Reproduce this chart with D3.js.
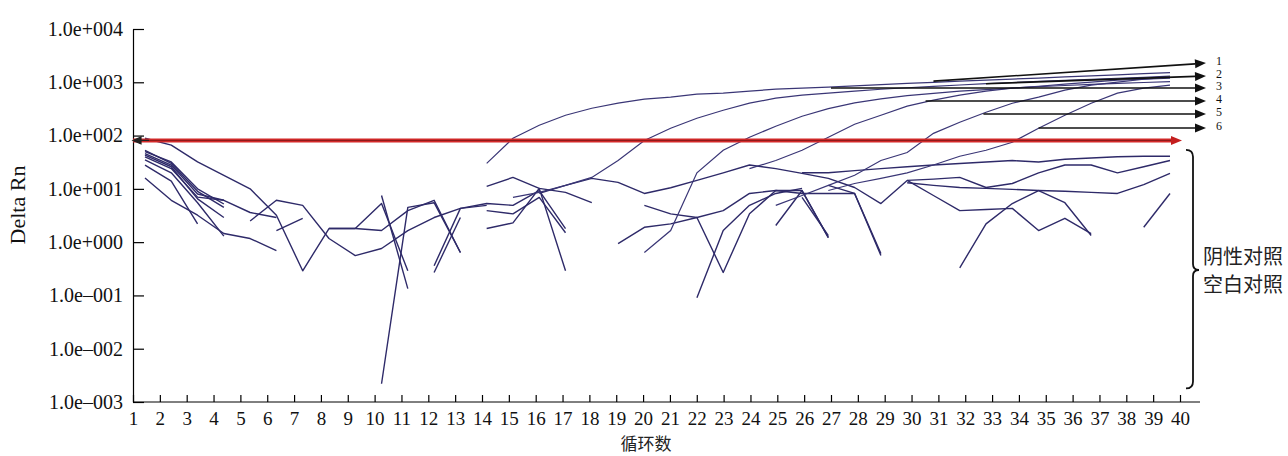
<!DOCTYPE html>
<html>
<head>
<meta charset="utf-8">
<script src="https://cdn.jsdelivr.net/npm/d3@7"></script>
<style>
  body { margin: 0; background: #fff; }
  svg text { font-family: "Liberation Serif", "Times New Roman", serif; fill: #111; }
  svg text.cn { font-family: "Noto Sans CJK SC", sans-serif; fill: #222; }
  .run { fill: none; stroke: #2e2a69; stroke-width: 1.4; stroke-linejoin: round; }
  .amp { fill: none; stroke: #3a3676; stroke-width: 1.2; }
</style>
</head>
<body>
<div id="app"></div>
<script>
const width = 1288, height = 456;

// axis values
const cycles = d3.range(1, 41);
const decades = [1e-3, 1e-2, 1e-1, 1e0, 1e1, 1e2, 1e3, 1e4];
const threshold = 81;

// amplification curves (start cycle, Delta Rn per cycle)
const amp1 = [30, 89, 156, 241, 326, 405, 482, 525, 598, 625, 681, 743, 776, 811, 860, 900, 950, 1000, 1050, 1100, 1150, 1200, 1260, 1320, 1380, 1450, 1520];
const amp2 = [6.9, 8.6, 11.6, 16.4, 34, 81, 137, 211, 299, 405, 503, 573, 625, 681, 740, 790, 840, 890, 940, 990, 1040, 1090, 1140, 1190, 1240, 1300];
const amp3 = [0.64, 1.65, 20, 53, 93, 150, 230, 320, 410, 490, 560, 620, 680, 730, 780, 830, 870, 910, 950, 990, 1030];
const amp4 = [24, 34, 53, 93, 163, 241, 356, 461, 573, 681, 776, 843, 923, 1007, 1096, 1140, 1190];
const amp5 = [4.9, 7.5, 11.6, 18, 34, 48, 110, 178, 274, 405, 525, 711, 884, 1007, 1140, 1250];
const amp6 = [9.3, 12.6, 15.7, 20, 28, 41, 53, 75, 137, 241, 405, 625, 776, 884];
const ampStarts = [14, 15, 20, 24, 25, 27];

// negative / blank control traces
const neg1 = [89, 66, 32, 18, 10, 3.2, 0.29, 1.8, 1.8];
const neg2 = [53, 30, 9, 4.5];
const neg3 = [46, 28, 8, 6.1, 3.6, 2.9];
const neg4 = [40, 24, 7, 6.1];
const neg5 = [35, 20, 5.5, 1.3];
const neg6 = [28, 14, 2.2];
const neg7 = [16, 6.1, 3.2, 1.45, 1.17, 0.69];
const neg8 = [50, 32, 10, 5.2];
const neg9 = [43, 26, 6.5, 2.9];
const neg10 = [2.5, 6.1, 4.9, 1.17, 0.56, 0.76, 1.65, 2.9, 4.3, 5.3, 4.9, 9.3, 1.8];
const neg11 = [1.65, 2.8];
const neg12 = [1.8, 1.8, 1.65, 3.9, 6.1, 0.64];
const neg13 = [0.0022, 4.5, 5.5, 0.64];
const neg14 = [7.5, 0.134];
const neg15 = [1.8, 5.3, 0.29];
const neg16 = [0.36, 4.3, 4.9];
const neg17 = [0.27, 2.9];
const neg18 = [11.1, 16.4, 10.2, 8.6, 5.5];
const neg19 = [3.9, 3.4, 6.9, 1.5];
const neg20 = [1.8, 2.3, 10.2, 0.29];
const neg21 = [8.2, 11.6, 15.7, 13.2, 8.2, 10.5, 14.4, 20, 28, 24, 19.5, 15.7, 10.6, 5.3, 14.4, 15.2, 16.4, 10.6, 12.6, 20, 28, 28, 20, 26, 34];
const neg22 = [0.94, 1.9, 2.2, 2.9, 3.9, 8.2, 9.3, 8.2, 8.2, 8.2, 0.56];
const neg23 = [4.9, 3.4, 2.9, 0.27, 3.4, 9.3, 9.3, 1.22];
const neg24 = [0.09, 1.65, 4.9, 8.2, 10.2];
const neg25 = [2.05, 9.3, 1.22];
const neg26 = [11.6, 8.2, 0.61];
const neg27 = [20, 20, 22, 24, 26, 28, 30, 32, 34, 32, 36, 38, 40, 41, 41];
const neg28 = [14.4, 7.5, 3.9, 4.1, 4.3, 1.65, 2.8, 1.45];
const neg29 = [13, 11.6, 10.6, 10.2, 9.8, 9.3, 9, 8.6, 8.2, 12, 19.5];
const neg30 = [0.33, 2.2, 5.3, 9.3, 5.5, 1.33];
const neg31 = [1.9, 8.2];
const neg32 = [6.9, 1.33];
const negStarts = [1, 1, 1, 1, 1, 1, 1, 1, 1, 5, 6, 8, 10, 10, 9, 12, 12, 14, 14, 14, 16, 19, 20, 22, 25, 27, 26, 30, 30, 32, 39, 26];

// label arrows: start cycle, start value, end value
const arrowLabels = ["1", "2", "3", "4", "5", "6"];
const arrowFrom = [31, 33, 27.1, 30.7, 32.9, 35];
const arrowFromValue = [1050, 940, 782, 446, 254, 139];
const arrowToValue = [2290, 1310, 782, 446, 254, 139];
const arrowTip = 41.37;

const svg = d3.select("#app")
.append("svg")
  .attr("width", width)
  .attr("height", height);

const x = d3.scaleLinear().domain([1, 40]).range([133, 1180]);
const xRun = d3.scaleLinear().domain([1, 40]).range([145, 1170]);
const y = d3.scaleLog().domain([1e-3, 1e4]).range([402, 29]);

const fmt = d => {
  const e = Math.round(Math.log10(d));
  return "1.0e" + (e < 0 ? "\u2013" : "+") + String(Math.abs(e)).padStart(3, "0");
};

/* y axis */
const gy = svg.append("g")
  .attr("transform", "translate(133,0)")
  .call(d3.axisLeft(y).tickValues(decades).tickFormat(fmt)
    .tickSizeInner(-11).tickSizeOuter(0).tickPadding(10));
gy.selectAll("text").style("font-size", "20px");

/* x axis */
const gx = svg.append("g")
  .attr("transform", "translate(0,402)")
  .call(d3.axisBottom(x).tickValues(cycles).tickFormat(d3.format("d"))
    .tickSizeInner(-7).tickSizeOuter(0).tickPadding(10));
gx.select(".domain").remove();
gx.selectAll("text").style("font-size", "19px");
svg.append("line")
  .attr("x1", x(1)).attr("x2", x(40) + 20)
  .attr("y1", 402).attr("y2", 402)
  .attr("stroke", "#000");
svg.selectAll(".domain, .tick line").attr("stroke", "#000").attr("stroke-width", 1.2);

svg.append("text")
  .attr("transform", "translate(25,205) rotate(-90)")
  .attr("text-anchor", "middle")
  .style("font-size", "22px")
  .text("Delta Rn");

svg.append("text")
  .attr("class", "cn")
  .attr("x", 646).attr("y", 450)
  .attr("text-anchor", "middle")
  .style("font-size", "17px")
  .text("循环数");

/* traces */
const negRuns = [neg1, neg2, neg3, neg4, neg5, neg6, neg7, neg8, neg9, neg10, neg11, neg12, neg13, neg14, neg15, neg16,
  neg17, neg18, neg19, neg20, neg21, neg22, neg23, neg24, neg25, neg26, neg27, neg28, neg29, neg30, neg31, neg32]
  .map((v, i) => ({ start: negStarts[i], values: v }));
const ampRuns = [amp1, amp2, amp3, amp4, amp5, amp6]
  .map((v, i) => ({ start: ampStarts[i], values: v }));

const lineFor = run => d3.line()
  .x((d, i) => xRun(run.start + i))
  .y(d => y(d))(run.values);

svg.selectAll(".run")
  .data(negRuns)
.enter()
.append("path")
  .attr("class", "run")
  .attr("d", lineFor);

svg.selectAll(".amp")
  .data(ampRuns)
.enter()
.append("path")
  .attr("class", "amp")
  .attr("d", lineFor);

/* threshold */
const ty = y(threshold);
svg.append("line")
  .attr("x1", x(1)).attr("x2", x(40) - 8)
  .attr("y1", ty).attr("y2", ty)
  .attr("stroke", "#d42a2a").attr("stroke-width", 4);
svg.append("line")
  .attr("x1", x(1)).attr("x2", x(40) - 8)
  .attr("y1", ty).attr("y2", ty)
  .attr("stroke", "#6a1414").attr("stroke-width", 0.7);
svg.append("path")
  .attr("d", `M${x(40) + 2},${ty} L${x(40) - 9},${ty - 4.5} L${x(40) - 9},${ty + 4.5} Z`)
  .attr("fill", "#c41e1e");
svg.append("path")
  .attr("d", `M${x(1)},${ty} L${x(1) + 8},${ty - 3.5} L${x(1) + 8},${ty + 3.5} Z M${x(1)},${ty} L${x(1) + 16},${ty}`)
  .attr("fill", "#222").attr("stroke", "#222").attr("stroke-width", 1.2);

/* numbered arrows */
const arrows = svg.append("g");
arrowLabels.forEach((lab, i) => {
  const x0 = xRun(arrowFrom[i]), y0 = y(arrowFromValue[i]);
  const x1 = xRun(arrowTip), y1 = y(arrowToValue[i]);
  const a = Math.atan2(y1 - y0, x1 - x0);
  const L = 11, hw = 4.5;
  const bx = x1 - L * Math.cos(a), by = y1 - L * Math.sin(a);
  arrows.append("line")
    .attr("x1", x0).attr("y1", y0).attr("x2", bx).attr("y2", by)
    .attr("stroke", "#111").attr("stroke-width", 1.6);
  arrows.append("path")
    .attr("d", `M${x1},${y1} L${bx - hw * Math.sin(a)},${by + hw * Math.cos(a)} L${bx + hw * Math.sin(a)},${by - hw * Math.cos(a)} Z`)
    .attr("fill", "#111");
  arrows.append("text")
    .attr("x", x1 + 10).attr("y", y1 + 2)
    .style("font-size", "12px")
    .text(lab);
});

/* bracket for the controls */
const bTop = y(54), bMid = y(0.3), bBot = y(0.0018), bx = 1193;
svg.append("path")
  .attr("d", `M${bx - 7},${bTop} Q${bx},${bTop} ${bx},${bTop + 7} L${bx},${bMid - 6} Q${bx},${bMid} ${bx + 6},${bMid}`
    + ` Q${bx},${bMid} ${bx},${bMid + 6} L${bx},${bBot - 7} Q${bx},${bBot} ${bx - 7},${bBot}`)
  .attr("fill", "none").attr("stroke", "#111").attr("stroke-width", 1.8);

svg.append("text").attr("class", "cn")
  .attr("x", 1203).attr("y", bMid - 6)
  .style("font-size", "20px")
  .text("阴性对照");
svg.append("text").attr("class", "cn")
  .attr("x", 1203).attr("y", bMid + 22)
  .style("font-size", "20px")
  .text("空白对照");
</script>
</body>
</html>
